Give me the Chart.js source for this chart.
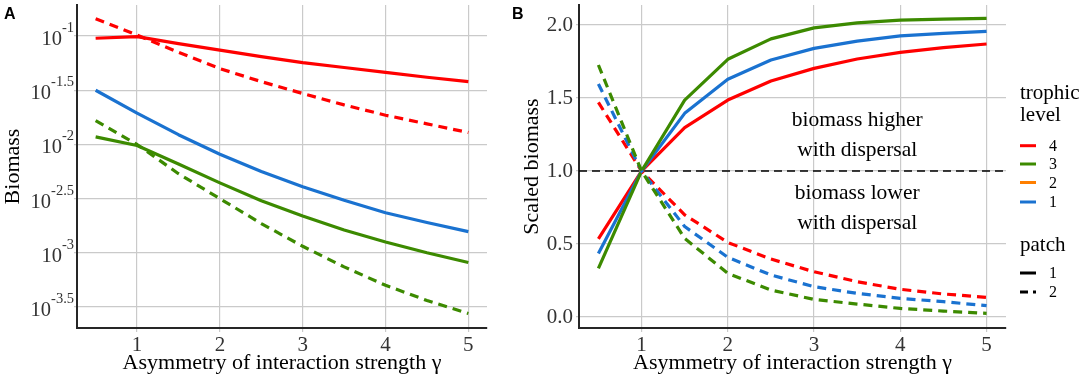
<!DOCTYPE html>
<html><head><meta charset="utf-8">
<script src="https://cdn.jsdelivr.net/npm/chart.js@4.4.0/dist/chart.umd.min.js"></script>
<style>
html,body{margin:0;padding:0;background:#fff;width:1084px;height:380px;overflow:hidden;}
#wrapA{position:absolute;left:0;top:0;width:500px;height:380px;}
#wrapB{position:absolute;left:500px;top:0;width:584px;height:380px;}
canvas{display:block;}
</style></head><body>
<div id="wrapA"><canvas id="chartA" width="500" height="380"></canvas></div>
<div id="wrapB"><canvas id="chartB" width="584" height="380"></canvas></div>
<script>
// ---------- data ----------
const gamma = [0.5, 1, 1.5, 2, 2.5, 3, 3.5, 4, 4.5, 5];
const xTicks = [1, 2, 3, 4, 5];

// Panel A: log10(biomass)
const logBiomassTL4Patch1 = [-1.02, -1.005, -1.07, -1.13, -1.19, -1.245, -1.29, -1.335, -1.38, -1.42];
const logBiomassTL4Patch2 = [-0.84, -0.99, -1.15, -1.30, -1.42, -1.53, -1.635, -1.73, -1.81, -1.89];
const logBiomassTL1Patch1 = [-1.50, -1.71, -1.91, -2.09, -2.25, -2.39, -2.515, -2.63, -2.72, -2.805];
const logBiomassTL3Patch1 = [-1.93, -2.01, -2.18, -2.355, -2.52, -2.66, -2.79, -2.90, -3.00, -3.09];
const logBiomassTL3Patch2 = [-1.78, -2.00, -2.27, -2.50, -2.73, -2.94, -3.13, -3.30, -3.44, -3.56];
const logTicksA = [-1, -1.5, -2, -2.5, -3, -3.5];

// Panel B: scaled biomass
const scaledTL3Patch1 = [0.333, 1, 1.485, 1.765, 1.905, 1.98, 2.015, 2.033, 2.04, 2.045];
const scaledTL1Patch1 = [0.436, 1, 1.395, 1.628, 1.76, 1.84, 1.89, 1.925, 1.943, 1.957];
const scaledTL4Patch1 = [0.536, 1, 1.297, 1.486, 1.616, 1.703, 1.767, 1.813, 1.845, 1.870];
const scaledTL3Patch2 = [1.726, 1, 0.539, 0.299, 0.185, 0.121, 0.089, 0.059, 0.041, 0.025];
const scaledTL1Patch2 = [1.596, 1, 0.62, 0.409, 0.288, 0.208, 0.162, 0.128, 0.105, 0.078];
const scaledTL4Patch2 = [1.47, 1, 0.70, 0.511, 0.397, 0.31, 0.242, 0.19, 0.158, 0.135];
const ticksB = [0, 0.5, 1, 1.5, 2];

const trophicLevels = ['4', '3', '2', '1'];
const patchLabels = ['1', '2'];
const annotHigher = ['biomass higher', 'with dispersal'];
const annotLower = ['biomass lower', 'with dispersal'];

// ---------- styles ----------
const SERIF = "'Liberation Serif','Times New Roman',serif";
const SANS = "'Liberation Sans',Arial,sans-serif";
const COL = { '4': '#FF0000', '3': '#3C8A00', '2': '#FF7F00', '1': '#1A72D0' };
const GRID = '#cacaca';
const AXIS = '#262626';
const TICKC = '#333333';

function ds(label, ys, color, dashed) {
  return {
    label, data: gamma.map((g, i) => ({ x: g, y: ys[i] })),
    borderColor: color, backgroundColor: color, borderWidth: 3.2,
    borderDash: dashed ? [9, 6] : [], borderCapStyle: 'butt', borderJoinStyle: 'round',
    pointRadius: 0, pointHoverRadius: 0, tension: 0, fill: false
  };
}

function xScale() {
  return {
    type: 'linear', min: 0.275, max: 5.225,
    afterBuildTicks: s => { s.ticks = xTicks.map(v => ({ value: v })); },
    afterFit: s => { s.height = 52; s.paddingLeft = 0; s.paddingRight = 0; },
    grid: { color: GRID, lineWidth: 1.2, tickLength: 4, drawTicks: true },
    border: { color: AXIS, width: 2 },
    ticks: { font: { family: SERIF, size: 21 }, color: TICKC, padding: 1, maxRotation: 0, autoSkip: false },
    title: { display: true, text: 'Asymmetry of interaction strength γ', font: { family: SERIF, size: 22 }, color: '#000', padding: { top: 4, bottom: 4 } }
  };
}

function panelLabel(txt, x) {
  return {
    id: 'panelLabel' + txt,
    afterDraw(chart) {
      const ctx = chart.ctx; ctx.save();
      ctx.font = 'bold 16px ' + SANS; ctx.fillStyle = '#000'; ctx.textAlign = 'left'; ctx.textBaseline = 'alphabetic';
      ctx.fillText(txt, x, 19); ctx.restore();
    }
  };
}

// superscript tick labels for log axis
const supTicks = {
  id: 'supTicks',
  afterDraw(chart) {
    const s = chart.scales.y, ctx = chart.ctx; ctx.save();
    ctx.fillStyle = TICKC; ctx.textBaseline = 'alphabetic'; ctx.textAlign = 'right';
    logTicksA.forEach(v => {
      const y = s.getPixelForValue(v);
      const exp = String(v);
      const xr = s.right - 3;
      ctx.font = '14.5px ' + SERIF;
      ctx.fillText(exp, xr, y - 4);
      const w = ctx.measureText(exp).width;
      ctx.font = '20.5px ' + SERIF;
      ctx.fillText('10', xr - w, y + 9);
    });
    ctx.restore();
  }
};

// ---------- panel A ----------
new Chart(document.getElementById('chartA'), {
  type: 'line',
  data: {
    datasets: [
      ds('TL3 patch 2', logBiomassTL3Patch2, COL['3'], true),
      ds('TL3 patch 1', logBiomassTL3Patch1, COL['3'], false),
      ds('TL1 patch 1', logBiomassTL1Patch1, COL['1'], false),
      ds('TL4 patch 2', logBiomassTL4Patch2, COL['4'], true),
      ds('TL4 patch 1', logBiomassTL4Patch1, COL['4'], false)
    ]
  },
  options: {
    responsive: false, animation: false, events: [],
    layout: { padding: { left: 0, top: 5, right: 13, bottom: 0 } },
    plugins: { legend: { display: false }, tooltip: { enabled: false } },
    scales: {
      x: xScale(),
      y: {
        type: 'linear', min: -3.694, max: -0.713,
        afterBuildTicks: s => { s.ticks = logTicksA.map(v => ({ value: v })); },
        afterFit: s => { s.width = 77; s.paddingTop = 0; s.paddingBottom = 0; },
        grid: { color: GRID, lineWidth: 1.2, tickLength: 3, drawTicks: true },
        border: { color: AXIS, width: 2 },
        ticks: { callback: () => '', padding: 0 },
        title: { display: true, text: 'Biomass', font: { family: SERIF, size: 22 }, color: '#000', padding: { top: 0, bottom: 0 } }
      }
    }
  },
  plugins: [supTicks, panelLabel('A', 4)]
});

// ---------- panel B ----------
const panelBExtras = {
  id: 'panelBExtras',
  beforeDatasetsDraw(chart) {
    const ctx = chart.ctx, a = chart.chartArea, y = chart.scales.y.getPixelForValue(1);
    ctx.save(); ctx.strokeStyle = '#000'; ctx.lineWidth = 1.6; ctx.setLineDash([8, 5]);
    ctx.beginPath(); ctx.moveTo(a.left, y); ctx.lineTo(a.right, y); ctx.stroke(); ctx.restore();
  },
  afterDraw(chart) {
    const ctx = chart.ctx, xs = chart.scales.x, ys = chart.scales.y;
    ctx.save();
    ctx.fillStyle = '#000'; ctx.font = '21.5px ' + SERIF; ctx.textAlign = 'center'; ctx.textBaseline = 'middle';
    const cx = xs.getPixelForValue(3.5);
    ctx.fillText(annotHigher[0], cx, ys.getPixelForValue(1.35));
    ctx.fillText(annotHigher[1], cx, ys.getPixelForValue(1.14));
    ctx.fillText(annotLower[0], cx, ys.getPixelForValue(0.85));
    ctx.fillText(annotLower[1], cx, ys.getPixelForValue(0.645));
    // legend
    const lx = 520;
    ctx.textAlign = 'left'; ctx.font = '21px ' + SERIF;
    ctx.fillText('trophic', lx, 93);
    ctx.fillText('level', lx, 115.5);
    const itemY = [145.7, 164, 182.5, 202];
    ctx.font = '16px ' + SERIF;
    trophicLevels.forEach((t, i) => {
      ctx.strokeStyle = COL[t]; ctx.lineWidth = 3; ctx.setLineDash([]);
      ctx.beginPath(); ctx.moveTo(lx, itemY[i]); ctx.lineTo(lx + 16, itemY[i]); ctx.stroke();
      ctx.fillStyle = '#000'; ctx.fillText(t, lx + 29, itemY[i] + 1);
    });
    ctx.font = '21px ' + SERIF;
    ctx.fillText('patch', lx, 245.7);
    const patchY = [273, 292];
    ctx.font = '16px ' + SERIF;
    patchLabels.forEach((p, i) => {
      ctx.strokeStyle = '#000'; ctx.lineWidth = 3; ctx.setLineDash(i === 0 ? [] : [8, 5]);
      ctx.beginPath(); ctx.moveTo(lx, patchY[i]); ctx.lineTo(lx + 16, patchY[i]); ctx.stroke();
      ctx.setLineDash([]);
      ctx.fillText(p, lx + 29, patchY[i] + 1);
    });
    ctx.restore();
  }
};

new Chart(document.getElementById('chartB'), {
  type: 'line',
  data: {
    datasets: [
      ds('TL3 patch 2', scaledTL3Patch2, COL['3'], true),
      ds('TL1 patch 2', scaledTL1Patch2, COL['1'], true),
      ds('TL4 patch 2', scaledTL4Patch2, COL['4'], true),
      ds('TL3 patch 1', scaledTL3Patch1, COL['3'], false),
      ds('TL1 patch 1', scaledTL1Patch1, COL['1'], false),
      ds('TL4 patch 1', scaledTL4Patch1, COL['4'], false)
    ]
  },
  options: {
    responsive: false, animation: false, events: [],
    layout: { padding: { left: 19, top: 5, right: 78, bottom: 0 } },
    plugins: { legend: { display: false }, tooltip: { enabled: false } },
    scales: {
      x: xScale(),
      y: {
        type: 'linear', min: -0.075, max: 2.137,
        afterBuildTicks: s => { s.ticks = ticksB.map(v => ({ value: v })); },
        afterFit: s => { s.width = 60; s.paddingTop = 0; s.paddingBottom = 0; },
        grid: { color: GRID, lineWidth: 1.2, tickLength: 3, drawTicks: true },
        border: { color: AXIS, width: 2 },
        ticks: { font: { family: SERIF, size: 21 }, color: TICKC, padding: 3, callback: v => Number(v).toFixed(1) },
        title: { display: true, text: 'Scaled biomass', font: { family: SERIF, size: 22 }, color: '#000', padding: { top: 0, bottom: 0 } }
      }
    }
  },
  plugins: [panelBExtras, panelLabel('B', 12)]
});
</script>
</body></html>
